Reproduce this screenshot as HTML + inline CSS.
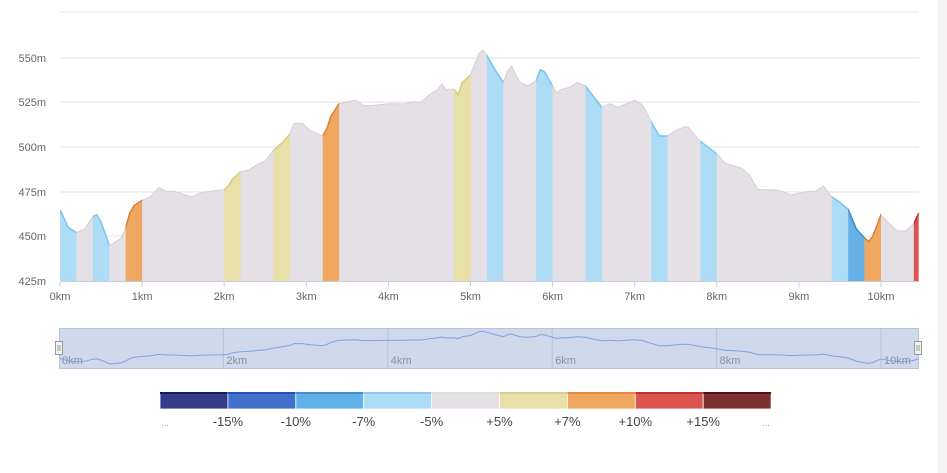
<!DOCTYPE html>
<html><head><meta charset="utf-8"><style>
html,body{margin:0;padding:0;background:#fff;}
body{width:947px;height:473px;overflow:hidden;position:relative;font-family:"Liberation Sans",sans-serif;}
</style></head><body>
<div style="position:absolute;left:938px;top:0;width:9px;height:473px;background:#f6f2f3"></div>
<svg id="s" width="947" height="473" style="position:absolute;left:0;top:0" font-family="Liberation Sans, sans-serif"></svg>
<script>
var P=[[0,465],[0.1,455],[0.2,452],[0.3,454],[0.4,461],[0.45,462],[0.5,458],[0.6,445],[0.65,446],[0.75,449],[0.8,455],[0.85,463],[0.9,467],[1.0,470],[1.1,472],[1.2,477],[1.3,475],[1.4,475],[1.6,472],[1.7,474],[1.8,475],[2.0,476],[2.05,478],[2.1,482],[2.2,486],[2.3,487],[2.4,490],[2.5,492],[2.6,498],[2.7,502],[2.8,507],[2.85,513],[2.95,513],[3.05,509],[3.2,506],[3.25,510],[3.3,517],[3.4,524],[3.5,525],[3.6,526],[3.7,523],[3.8,523],[4.0,524],[4.2,524],[4.3,525],[4.4,525],[4.5,529],[4.6,532],[4.65,535],[4.7,532],[4.8,532],[4.85,529],[4.9,536],[5.0,540],[5.05,546],[5.1,552],[5.15,554],[5.2,551],[5.3,543],[5.4,536],[5.45,542],[5.5,545],[5.6,536],[5.7,534],[5.8,537],[5.85,543],[5.9,542],[6.0,534],[6.05,530],[6.1,532],[6.2,533],[6.3,536],[6.4,534],[6.5,528],[6.6,522],[6.7,524],[6.8,522],[6.9,524],[7.0,526],[7.1,523],[7.2,514],[7.3,506],[7.4,506],[7.5,509],[7.6,511],[7.65,511],[7.8,503],[8.0,496],[8.1,491],[8.3,488],[8.4,484],[8.5,476],[8.7,476],[8.8,475],[8.9,473],[9.0,474],[9.1,475],[9.2,475],[9.3,478],[9.4,472],[9.5,469],[9.6,465],[9.7,454],[9.8,449],[9.85,447],[9.9,450],[9.95,456],[10.0,462],[10.1,457],[10.2,453],[10.3,453],[10.4,457],[10.46,463]];
var X=function(k){return 60+k*82.1},Y=function(m){return 281-(m-425)*1.79};
var G='#e5e0e6',LB='#addcf6',YE='#e8e0a8',OR='#f0a860',MB='#66b0e8',RD='#dd5550';
var DK={};DK[LB]='#7cc4ee';DK[YE]='#d8cc80';DK[OR]='#e07c30';DK[MB]='#3a8ad0';DK[RD]='#c02828';
var B=[[0,0.2,LB],[0.4,0.6,LB],[0.8,1.0,OR],[2.0,2.2,YE],[2.6,2.8,YE],[3.2,3.4,OR],[4.8,5.0,YE],[5.2,5.4,LB],[5.8,6.0,LB],[6.4,6.6,LB],[7.2,7.4,LB],[7.8,8.0,LB],[9.4,9.6,LB],[9.6,9.8,MB],[9.8,10.0,OR],[10.4,10.46,RD]];
var h='';
[12,58,102,147,192,236].forEach(function(y){h+='<line x1="60" x2="919" y1="'+y+'" y2="'+y+'" stroke="#e3e3e3"/>';});
var line=P.map(function(p){return X(p[0]).toFixed(1)+','+Y(p[1]).toFixed(1)}).join(' ');
var area='M60,281 L'+line+' L'+X(10.46)+',281Z';
h+='<defs><clipPath id="c"><path d="'+area+'"/></clipPath></defs>';
h+='<path d="'+area+'" fill="'+G+'"/>';
h+='<g clip-path="url(#c)">';
B.forEach(function(b){h+='<rect x="'+X(b[0])+'" y="0" width="'+(X(b[1])-X(b[0]))+'" height="281" fill="'+b[2]+'"/>';});
h+='</g>';
h+='<polyline points="'+line+'" fill="none" stroke="#d8d2da" stroke-width="1.2"/>';
B.forEach(function(b,i){h+='<clipPath id="b'+i+'"><rect x="'+X(b[0])+'" y="0" width="'+(X(b[1])-X(b[0]))+'" height="281"/></clipPath><polyline clip-path="url(#b'+i+')" points="'+line+'" fill="none" stroke="'+DK[b[2]]+'" stroke-width="1.5"/>';});
h+='<line x1="60" x2="919" y1="281.5" y2="281.5" stroke="#c8ccd8"/>';
['550m',58,'525m',102,'500m',147,'475m',192,'450m',236,'425m',281].forEach(function(v,i,a){if(i%2==0)h+='<text x="46" y="'+(a[i+1]+4)+'" font-size="11" fill="#666" text-anchor="end">'+v+'</text>';});
for(var k=0;k<=10;k++){h+='<line x1="'+X(k)+'" x2="'+X(k)+'" y1="282" y2="287" stroke="#c8ccd8"/><text x="'+X(k)+'" y="300" font-size="11" fill="#666" text-anchor="middle">'+k+'km</text>';}
h+='<rect x="59.5" y="328.5" width="859" height="40" fill="#d0d8ec" stroke="#b8c4de"/>';
for(var k=2;k<=10;k+=2){var x=59+k*82.2;h+='<line x1="'+x+'" x2="'+x+'" y1="329" y2="368" stroke="#b8c2dc"/>';}
for(var k=0;k<=10;k+=2){h+='<text x="'+(62+k*82.2)+'" y="364" font-size="11" fill="#8890a8">'+k+'km</text>';}
var nl=P.map(function(p){return (60+p[0]*82.1).toFixed(1)+','+(364-(p[1]-445)*0.3).toFixed(1)}).join(' ');
h+='<polyline points="'+nl+'" fill="none" stroke="#7ca4e4" stroke-width="1"/>';
[59,918].forEach(function(x){h+='<rect x="'+(x-3.5)+'" y="341.5" width="7" height="13" fill="#f2f2f2" stroke="#999"/><line x1="'+(x-1)+'" x2="'+(x-1)+'" y1="345" y2="351" stroke="#999"/><line x1="'+(x+1)+'" x2="'+(x+1)+'" y1="345" y2="351" stroke="#999"/>';});
var LC=['#323c88','#4370cc','#62b0e8','#addcf6','#e5e0e6','#e8e0a8','#f0a860','#dd5550','#7c3030'];
var TC=['#101a60','#2050b0','#3a90d0','#8cc8ee','#e0dde0','#d8d090','#e08840','#c03030','#501010'];
LC.forEach(function(c,i){var x=160+i*67.9;h+='<rect x="'+x+'" y="392" width="67.9" height="17" fill="'+c+'" stroke="#fff" stroke-width="0.8"/><rect x="'+x+'" y="392" width="67.9" height="2" fill="'+TC[i]+'"/>';});
['...','-15%','-10%','-7%','-5%','+5%','+7%','+10%','+15%','...'].forEach(function(t,i){var x=i==0?165:(i==9?766:160+i*67.9);h+='<text x="'+x+'" y="426" font-size="'+(t=='...'?9:13)+'" fill="'+(t=='...'?'#999':'#444')+'" text-anchor="middle">'+t+'</text>';});
document.getElementById('s').innerHTML=h;
</script>
</body></html>
